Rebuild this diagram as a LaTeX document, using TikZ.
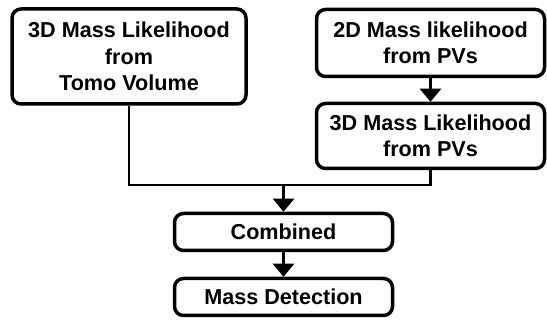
\documentclass[tikz,border=0pt]{standalone}
\usepackage{fontspec}
\setmainfont{Liberation Sans}
\usetikzlibrary{arrows.meta, positioning, calc}

\begin{document}
\begin{tikzpicture}[
                x=1pt, y=-1pt,
                box/.style={rectangle, rounded corners=9pt, draw, line width=3.5pt, align=center,
                    font=\fontsize{21.6}{26.5}\selectfont\bfseries, inner sep=0pt},
                flow/.style={line width=2.6pt, -{Triangle[length=13pt, width=21pt]}},
                wire/.style={line width=2.6pt}
            ]
                \useasboundingbox (0,0) rectangle (547,320);

                % Stages
                \node[box, minimum width=234pt, minimum height=95pt] (tomo) at (129,56.5)
                    {3D Mass Likelihood\\from\\Tomo Volume};
                \node[box, minimum width=228pt, minimum height=67pt] (pv2d) at (430.5,43)
                    {2D Mass likelihood\\from PVs};
                \node[box, minimum width=228pt, minimum height=65pt] (pv3d) at (430.5,136)
                    {3D Mass Likelihood\\from PVs};
                \node[box, minimum width=218pt, minimum height=37pt] (comb) at (283.5,232) {Combined};
                \node[box, minimum width=218pt, minimum height=37pt] (det) at (283.5,297) {Mass Detection};

                % Connectors
                \coordinate (join) at (283.5,185);
                \draw[wire] (tomo.south) |- (join) -| (pv3d.south);
                \draw[flow] (pv2d) -- (pv3d);
                \draw[flow] (join) -- (comb);
                \draw[flow] (comb) -- (det);
            \end{tikzpicture}
\end{document}
